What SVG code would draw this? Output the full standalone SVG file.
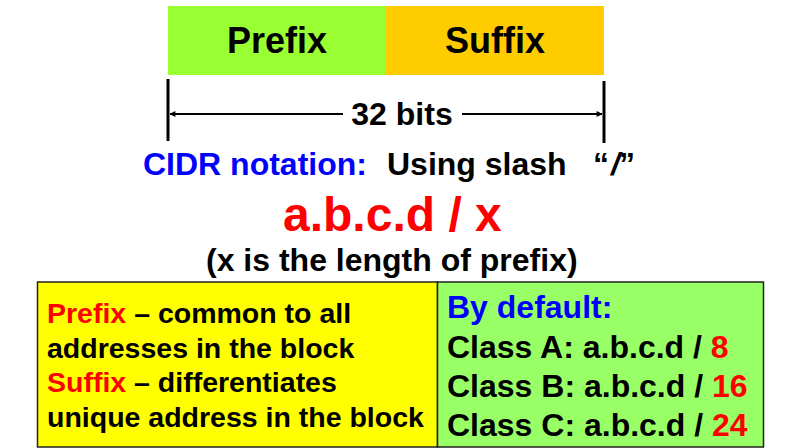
<svg xmlns="http://www.w3.org/2000/svg" width="787" height="448" viewBox="0 0 787 448">
<defs>
<style>
text{font-family:"Liberation Sans",Arial,Helvetica,sans-serif;font-weight:bold;fill:#000}
.red{fill:#FF0000}
.blue{fill:#0000FF}
.t32{font-size:32px}
.t28{font-size:28.5px}
.box{stroke:#222;stroke-width:1.5}
.tick{stroke:#000;stroke-width:3}
.dim{stroke:#000;stroke-width:2;fill:none}
</style>
<marker id="ah" viewBox="0 0 10 10" refX="9" refY="5" markerWidth="7" markerHeight="6" orient="auto-start-reverse" markerUnits="userSpaceOnUse">
<path d="M0,0 L10,5 L0,10 z" fill="#000"/>
</marker>
</defs>
<rect width="787" height="448" fill="#FFFFFF"/>
<g id="prefix-field">
<rect x="168" y="6" width="218" height="69" fill="#99FF33"/>
<text x="277" y="53" font-size="36" text-anchor="middle">Prefix</text>
</g>
<g id="suffix-field">
<rect x="386" y="6" width="218" height="69" fill="#FFCC00"/>
<text x="495" y="53" font-size="36" text-anchor="middle">Suffix</text>
</g>
<g id="connectors">
<line class="tick" x1="168" y1="79" x2="168" y2="141"/>
<line class="tick" x1="604" y1="81" x2="604" y2="143"/>
<line class="dim" x1="343" y1="114" x2="170" y2="114" marker-end="url(#ah)"/>
<line class="dim" x1="462" y1="114" x2="602" y2="114" marker-end="url(#ah)"/>
</g>
<g id="bits-label">
<text class="t32" x="402" y="125" text-anchor="middle">32 bits</text>
</g>
<g id="cidr-notation">
<text class="t32" y="175"><tspan class="blue" x="143">CIDR notation:</tspan><tspan x="387">Using slash</tspan><tspan x="593">“</tspan><tspan x="611" font-style="italic">/</tspan><tspan x="619">”</tspan></text>
<text x="283" y="231" font-size="48" class="red">a.b.c.d / x</text>
<text class="t32" x="206" y="271">(x is the length of prefix)</text>
</g>
<g id="left-box">
<rect class="box" x="37.5" y="282" width="400" height="165" fill="#FFFF00"/>
<text class="t28" x="47" y="323"><tspan class="red">Prefix</tspan> – common to all</text>
<text class="t28" x="47" y="358">addresses in the block</text>
<text class="t28" x="47" y="392"><tspan class="red">Suffix</tspan> – differentiates</text>
<text class="t28" x="47" y="427">unique address in the block</text>
</g>
<g id="right-box">
<rect class="box" x="437.5" y="282" width="326" height="165" fill="#99FF66"/>
<text class="t32 blue" x="447" y="318">By default:</text>
<text class="t32" x="447" y="358">Class A: a.b.c.d / <tspan class="red">8</tspan></text>
<text class="t32" x="447" y="397">Class B: a.b.c.d / <tspan class="red">16</tspan></text>
<text class="t32" x="447" y="436">Class C: a.b.c.d / <tspan class="red">24</tspan></text>
</g>
</svg>
